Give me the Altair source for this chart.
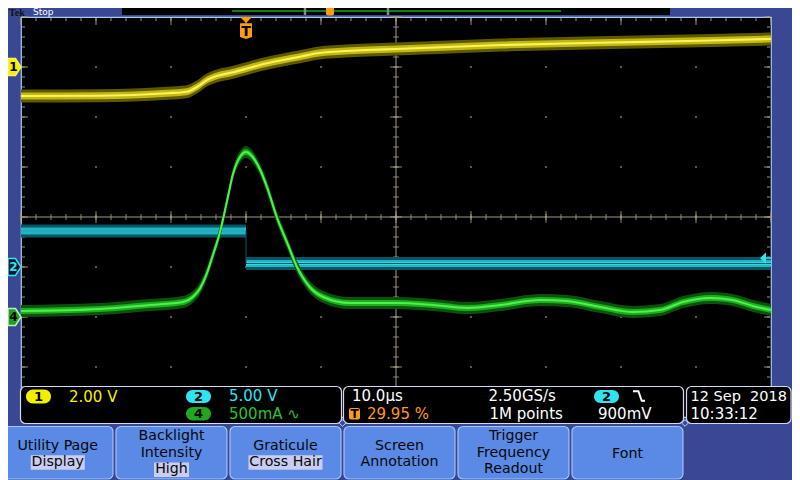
import altair as alt
import numpy as np
import pandas as pd

# ---------------- values ----------------
# horizontal: 10.0 us/div, 10 divisions -> time in microseconds
# CH1 (yellow) 2.00 V/div
T1 = [-50, -39.5, -30.5, -27.9, -26.5, -25.2, -23.9, -21.7, -19.5, -17.2, -15.1,
      -12.8, -10.5, -8.4, -3.9, 0, 14, 27, 40.5, 50]
V1 = [-1.16, -1.15, -1.05, -0.99, -0.79, -0.52, -0.36, -0.21, -0.03, 0.15, 0.28,
      0.41, 0.55, 0.61, 0.68, 0.72, 0.88, 0.97, 1.05, 1.12]
# CH2 (cyan) 5.00 V/div
T2 = [-50, -20, -20, 50]
V2 = [3.6, 3.6, 0.35, 0.35]
SEG2 = [0, 0, 1, 1]
# CH4 (green) 500 mA/div
T4 = [-50, -39.5, -32.8, -28.4, -27.1, -26.1, -25.2, -24.5, -23.5, -22.5, -21.7,
      -20.8, -20.0, -19.1, -18.1, -17.2, -15.9, -14.5, -13.2, -11.5, -9.7, -6.1,
      0.1, 4.9, 9.5, 13.9, 19.2, 22.8, 27.2, 31.6, 35.2, 38.3, 41.9, 44.9, 47.6, 50]
I4 = [0.06, 0.08, 0.12, 0.15, 0.20, 0.29, 0.44, 0.60, 0.84, 1.17, 1.44,
      1.60, 1.65, 1.60, 1.47, 1.30, 1.00, 0.74, 0.50, 0.30, 0.20, 0.14,
      0.14, 0.12, 0.09, 0.12, 0.17, 0.16, 0.10, 0.05, 0.07, 0.15, 0.19, 0.17, 0.11, 0.07]

CH_NAMES = ["1", "2", "4"]
CH_SCALE = [2.0, 5.0, 0.5]      # units per division
CH_OFFSET = [3, -1, -2]         # ground marker, divisions from centre
TRIG_T = -20.0                  # trigger position (us)
TRIG_LEVEL = 0.9                # V on CH2

X_DOMAIN = [-50, 50]
Y_DOMAIN = [-4, 4]
MAJ_X = [-40, -30, -20, -10, 0, 10, 20, 30, 40]
MAJ_Y = [-3, -2, -1, 0, 1, 2, 3]
MINOR_T = list(np.round(np.arange(-50, 50.001, 2), 3))
MINOR_D = list(np.round(np.arange(-4, 4.001, 0.2), 3))
MAJOR_T = list(range(-50, 51, 10))
MAJOR_D = list(range(-4, 5))

BUTTONS = [["Utility Page", "Display"], ["Backlight", "Intensity", "High"],
           ["Graticule", "Cross Hair"], ["Screen", "Annotation"],
           ["Trigger", "Frequency", "Readout"], ["Font"]]
BUTTON_HL = [1, 2, 1, None, None, None]

# ---------------- styling ----------------
BG = "#3a4894"
GRID = "#b0a27e"
CROSS = "#a09a8a"
YEL, CYA, GRN, ORA = "#f4ee00", "#2fe4f0", "#2ec02e", "#ff9c14"
FONT = "DejaVu Sans"

XS = alt.Scale(domain=X_DOMAIN, nice=False, zero=False)
YS = alt.Scale(domain=Y_DOMAIN, nice=False, zero=False)
OX, OY = 21, 17


def px(x):
    return x - OX


def py(y):
    return y - OY


def X(f):
    return alt.X(f + ":Q", scale=XS, axis=None)


def Y(f):
    return alt.Y(f + ":Q", scale=YS, axis=None)


ONE = pd.DataFrame({"k": [0]})
L = []


def text(s, x, y, color="white", size=15, align="left", weight="normal",
         font=FONT, baseline="alphabetic"):
    L.append(alt.Chart(ONE).mark_text(text=s, align=align, baseline=baseline, color=color,
                                      fontSize=size, fontWeight=weight, font=font)
             .encode(x=alt.value(px(x)), y=alt.value(py(y))))


def rect(x0, y0, x1, y1, fill, stroke=None, sw=1.0, r=0):
    kw = dict(fill=fill, cornerRadius=r, opacity=1)
    if stroke:
        kw.update(stroke=stroke, strokeWidth=sw)
    L.append(alt.Chart(ONE).mark_rect(**kw).encode(
        x=alt.value(px(x0)), x2=alt.value(px(x1)), y=alt.value(py(y0)), y2=alt.value(py(y1))))


# ---------------- graticule ----------------
gx, gy = np.meshgrid(MAJ_X, MAJ_Y)
L.append(alt.Chart(pd.DataFrame({"t": gx.ravel(), "d": gy.ravel()}))
         .mark_square(size=2, color=GRID, opacity=1).encode(x=X("t"), y=Y("d")))
for tv, off in [(-50, 1), (50, -1)]:
    L.append(alt.Chart(pd.DataFrame({"t": tv, "d": MINOR_D})).mark_tick(
        orient="horizontal", size=3, thickness=1, xOffset=2.5 * off, color=GRID, opacity=0.9)
        .encode(x=X("t"), y=Y("d")))
    L.append(alt.Chart(pd.DataFrame({"t": tv, "d": MAJOR_D})).mark_tick(
        orient="horizontal", size=6, thickness=1, xOffset=4 * off, color=GRID, opacity=0.9)
        .encode(x=X("t"), y=Y("d")))
L.append(alt.Chart(pd.DataFrame({"t": MINOR_T, "d": 4})).mark_tick(
    orient="vertical", size=3, thickness=1, yOffset=2.5, color=GRID, opacity=0.9)
    .encode(x=X("t"), y=Y("d")))
L.append(alt.Chart(pd.DataFrame({"t": MAJOR_T, "d": 4})).mark_tick(
    orient="vertical", size=7, thickness=1, yOffset=4.5, color=GRID, opacity=0.9)
    .encode(x=X("t"), y=Y("d")))
# crosshair
L.append(alt.Chart(ONE).mark_rule(color=CROSS, strokeWidth=1).encode(y=Y("k")))
L.append(alt.Chart(ONE).mark_rule(color=CROSS, strokeWidth=1).encode(x=X("k")))
L.append(alt.Chart(pd.DataFrame({"t": MINOR_T, "d": 0})).mark_tick(
    orient="vertical", size=6, thickness=1, color=GRID, opacity=0.8).encode(x=X("t"), y=Y("d")))
L.append(alt.Chart(pd.DataFrame({"t": MAJOR_T, "d": 0})).mark_tick(
    orient="vertical", size=12, thickness=1, color=GRID, opacity=0.8).encode(x=X("t"), y=Y("d")))
L.append(alt.Chart(pd.DataFrame({"t": 0, "d": MINOR_D})).mark_tick(
    orient="horizontal", size=6, thickness=1, color=GRID, opacity=0.8).encode(x=X("t"), y=Y("d")))
L.append(alt.Chart(pd.DataFrame({"t": 0, "d": MAJOR_D})).mark_tick(
    orient="horizontal", size=12, thickness=1, color=GRID, opacity=0.8).encode(x=X("t"), y=Y("d")))


# ---------------- traces ----------------
def trace(T, V, ci, halo, mid, core, interp, seg=None, hw=(0.13, 0.07), lw=2.2):
    df = pd.DataFrame({"t": T, "v": V})
    df["d"] = df["v"] / CH_SCALE[ci] + CH_OFFSET[ci]
    df["i"] = range(len(df))
    df["seg"] = seg if seg is not None else 0
    for h, col in [(hw[0], halo), (hw[1], mid)]:
        d2 = df.assign(lo=df["d"] - h, hi=df["d"] + h)
        L.append(alt.Chart(d2).mark_area(color=col, interpolate=interp, opacity=1)
                 .encode(x=X("t"), y=Y("lo"), y2="hi:Q", detail="seg:N"))
    L.append(alt.Chart(df).mark_line(color=core, strokeWidth=lw, interpolate=interp)
             .encode(x=X("t"), y=Y("d"), detail="seg:N", order="i:Q"))
    return df


trace(T1, V1, 0, "#5e5900", "#c2b810", "#faf35a", "monotone")
d2 = trace(T2, V2, 1, "#0d5560", "#19b8c8", "#52f2fc", "linear", seg=SEG2)
L.append(alt.Chart(d2).mark_line(color="#0d5a66", strokeWidth=1)
         .encode(x=X("t"), y=Y("d"), order="i:Q"))
trace(T4, I4, 2, "#0c520c", "#1cae1c", "#4cf24c", "monotone", hw=(0.12, 0.06), lw=2)

# ---------------- trigger markers ----------------
trig = pd.DataFrame({"t": [TRIG_T]})
L.append(alt.Chart(trig).mark_point(shape="M-1,-0.5L1,-0.5L0,0.5Z", size=144, filled=True,
                                    fill=ORA, opacity=1, strokeWidth=0)
         .encode(x=X("t"), y=alt.value(py(20))))
L.append(alt.Chart(trig).mark_point(shape="M-1,-1.3L1,-1.3L1,1L0,1.35L-1,1Z", size=144,
                                    filled=True, fill=ORA, opacity=1, strokeWidth=0)
         .encode(x=X("t"), y=alt.value(py(31))))
L.append(alt.Chart(trig).mark_text(text="T", font=FONT, fontWeight="bold", fontSize=14,
                                   color="black", baseline="middle", align="center")
         .encode(x=X("t"), y=alt.value(py(31.5))))
lvl = pd.DataFrame({"d": [TRIG_LEVEL / CH_SCALE[1] + CH_OFFSET[1]]})
L.append(alt.Chart(lvl).mark_point(shape="M-1,0L1,-1.9L1,1.9Z", size=36, filled=True,
                                   fill=CYA, opacity=1, strokeWidth=0)
         .encode(x=alt.value(px(763)), y=Y("d")))
L.append(alt.Chart(lvl).mark_rule(color=CYA, strokeWidth=1.5)
         .encode(x=alt.value(px(765)), x2=alt.value(px(771)), y=Y("d")))

# ---------------- channel badges ----------------
BADGE = "M-1,-1.3L0.15,-1.3L1,0L0.15,1.3L-1,1.3Z"
badge_style = [(YEL, "#f8f060", "black"), ("#0c1630", CYA, CYA), ("#1fa21f", "#b8f0b8", "black")]
for ci, name in enumerate(CH_NAMES):
    fill, stroke, tc = badge_style[ci]
    bd = pd.DataFrame({"d": [CH_OFFSET[ci]]})
    L.append(alt.Chart(bd).mark_point(shape=BADGE, size=169, filled=True, fill=fill,
                                      stroke=stroke, strokeWidth=1.5, opacity=1)
             .encode(x=alt.value(px(14.5)), y=Y("d")))
    L.append(alt.Chart(bd).mark_text(text=name, font=FONT, fontWeight="bold", fontSize=12,
                                     color=tc, baseline="middle", align="center")
             .encode(x=alt.value(px(13.5)), y=Y("d")))

# ---------------- top bar ----------------
rect(122, 1, 670, 15, "#000400")
L.append(alt.Chart(ONE).mark_rule(color="#1fa01f", strokeWidth=1.5).encode(
    x=alt.value(px(232)), x2=alt.value(px(561)), y=alt.value(py(11))))
for bx in (305, 388):
    L.append(alt.Chart(ONE).mark_rule(color="#8a8a8a", strokeWidth=2.5).encode(
        x=alt.value(px(bx)), y=alt.value(py(1)), y2=alt.value(py(15))))
rect(326, 5, 334, 15.5, ORA, r=2)
text("Tek", 9, 8.3, color="#101010", size=10, weight="bold", font="Liberation Serif",
     baseline="top")
text("Stop", 33, 8.3, color="white", size=9, baseline="top")

# ---------------- readout panels ----------------
PANEL_STROKE = "#d4d8f0"
rect(20.5, 386.5, 341.5, 423.5, "black", PANEL_STROKE, 1.2, 5)
rect(343.5, 386.5, 683.5, 423.5, "black", PANEL_STROKE, 1.2, 5)
rect(686.5, 386.5, 791, 423.5, "black", PANEL_STROKE, 1.2, 5)
for dx in (342.5, 685):
    L.append(alt.Chart(ONE).mark_point(shape="diamond", size=45, filled=True, fill="#2f4aa8",
                                       stroke="#c8d4f8", strokeWidth=1, opacity=1)
             .encode(x=alt.value(px(dx)), y=alt.value(py(423))))


def oval(x0, y0, x1, y1, fill, label):
    rect(x0, y0, x1, y1, fill, r=(y1 - y0) / 2)
    text(label, (x0 + x1) / 2, (y0 + y1) / 2 + 0.5, color="black", size=13, weight="bold",
         align="center", baseline="middle")


oval(26, 389.5, 51, 403.5, YEL, "1")
oval(186, 390, 211, 403, CYA, "2")
oval(186, 407, 211, 420.5, "#1fa81f", "4")
oval(594, 390, 619, 403, CYA, "2")
rect(349, 408, 360, 419.5, ORA, r=2)
text("T", 354.5, 414, color="black", size=12, weight="bold", align="center", baseline="middle")

text("2.00 V", 69, 401.5, YEL)
text("5.00 V", 229, 401, CYA)
text("500mA \u223f", 229, 418.5, GRN)
text("10.0\u00b5s", 352, 401)
text("29.95 %", 367, 418.5, ORA)
text("2.50GS/s", 488.5, 401)
text("1M points", 489.5, 418.5)
text("900mV", 598, 418.5)
text("12 Sep\u00a0 2018", 690.5, 401, size=14.5)
text("10:33:12", 690.5, 418.5)
L.append(alt.Chart(ONE).mark_point(shape="M-1,-0.8L-0.1,-0.8L0.45,0.8L1,0.8", size=144,
                                   filled=False, stroke="white", strokeWidth=2, opacity=1)
         .encode(x=alt.value(px(639)), y=alt.value(py(396))))

# ---------------- soft buttons ----------------
BX = [(2.5, 113), (116, 227), (230, 341), (344, 455), (458, 569), (572, 683)]
HL_W = {0: 54, 1: 35, 2: 74}
BASES = {1: [457.5], 2: [449.5, 466.2], 3: [440, 456.7, 473.4]}
for bi, (x0, x1) in enumerate(BX):
    rect(x0 + 1, 427.5, x1 + 1, 480.5, "#23408c", r=5)
    rect(x0, 426.5, x1, 479, "#5a8ae6", "#a6c2fa", 1.2, 5)
    lines = BUTTONS[bi]
    cx = (x0 + x1) / 2
    base = BASES[len(lines)]
    for li, s in enumerate(lines):
        if BUTTON_HL[bi] == li:
            w = HL_W[bi]
            rect(cx - w / 2, base[li] - 11, cx + w / 2, base[li] + 3.5, "#c9cdf1")
        text(s, cx, base[li], color="#080808", size=14.2, align="center")

chart = alt.layer(*L).properties(
    width=750, height=400,
    autosize=alt.AutoSizeParams(type="none"),
    padding={"left": 13, "top": 9, "right": 21, "bottom": 63},
    background=BG,
).configure_view(fill="black", stroke="#a8c8f0", strokeWidth=1.2)

chart.save("out.html", embed_options={"renderer": "svg", "actions": False})
